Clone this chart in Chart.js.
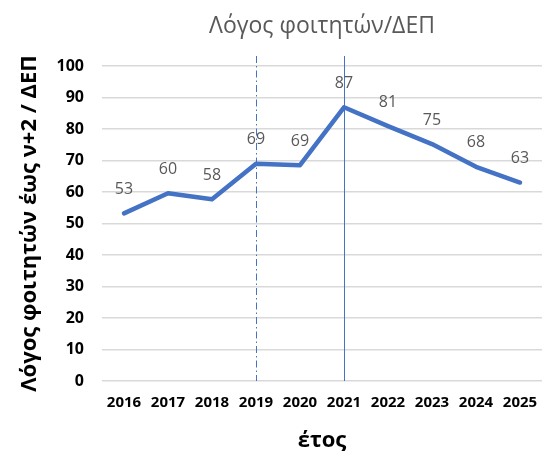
<!DOCTYPE html>
<html>
<head>
<meta charset="utf-8">
<script src="https://cdn.jsdelivr.net/npm/chart.js@4"></script>
<style>
html,body{margin:0;padding:0;background:#fff;}
#wrap{width:544px;height:452px;position:relative;}
</style>
</head>
<body>
<div id="wrap"><canvas id="c" width="544" height="452"></canvas></div>
<script>
const years = ["2016","2017","2018","2019","2020","2021","2022","2023","2024","2025"];
const ratio = [53.2, 59.6, 57.7, 69.0, 68.5, 86.9, 80.9, 75.2, 68.0, 63.0];
const ratioLabels = ["53","60","58","69","69","87","81","75","68","63"];
const markerYears = ["2019","2021"];

const FONT = "'Open Sans', 'Noto Sans', sans-serif";

const extras = {
  id: 'extras',
  beforeDatasetsDraw(chart) {
    const ctx = chart.ctx;
    const x = chart.scales.x;
    const area = chart.chartArea;
    ctx.save();
    ctx.strokeStyle = '#4472C4';
    ctx.lineWidth = 1;
    let px = x.getPixelForValue(years.indexOf(markerYears[0]));
    ctx.setLineDash([7, 3, 1.5, 3]);
    ctx.beginPath();
    ctx.moveTo(Math.round(px) + 0.5, area.top - 10);
    ctx.lineTo(Math.round(px) + 0.5, area.bottom);
    ctx.stroke();
    px = x.getPixelForValue(years.indexOf(markerYears[1]));
    ctx.setLineDash([]);
    ctx.beginPath();
    ctx.moveTo(Math.round(px) + 0.5, area.top - 10);
    ctx.lineTo(Math.round(px) + 0.5, area.bottom);
    ctx.stroke();
    ctx.restore();
  },
  afterDatasetsDraw(chart) {
    const ctx = chart.ctx;
    const meta = chart.getDatasetMeta(0);
    ctx.save();
    ctx.fillStyle = '#595959';
    ctx.font = "16px " + FONT;
    ctx.textAlign = 'center';
    ctx.textBaseline = 'middle';
    meta.data.forEach((pt, i) => {
      ctx.fillText(ratioLabels[i], pt.x, pt.y - 24);
    });
    ctx.restore();
  }
};

new Chart(document.getElementById('c'), {
  type: 'line',
  data: {
    labels: years,
    datasets: [{
      data: ratio,
      borderColor: '#4472C4',
      borderWidth: 4.5,
      pointRadius: 0,
      tension: 0,
      borderCapStyle: 'round',
      borderJoinStyle: 'round'
    }]
  },
  options: {
    responsive: false,
    animation: false,
    layout: { padding: { left: 0, right: 2, top: 0, bottom: 0 } },
    plugins: {
      legend: { display: false },
      tooltip: { enabled: false },
      title: {
        display: true,
        text: 'Λόγος φοιτητών/ΔΕΠ',
        color: '#595959',
        font: { family: FONT, size: 23, weight: 'normal', lineHeight: 1.2 },
        padding: { top: 13, bottom: 25.4 },
        fullSize: false
      }
    },
    scales: {
      x: {
        offset: true,
        grid: { display: false, drawTicks: false },
        border: { display: false },
        afterFit(s) { s.height = 71; s.paddingLeft = 0; s.paddingRight = 0; },
        ticks: {
          color: '#000',
          font: { family: FONT, size: 15, weight: 'bold' },
          padding: 13,
          maxRotation: 0, autoSkip: false
        },
        title: {
          display: true,
          text: 'έτος',
          color: '#000',
          font: { family: FONT, size: 22, weight: 'bold', lineHeight: 1 },
          padding: { top: 0, bottom: 0 }
        }
      },
      y: {
        min: 0, max: 100,
        afterFit(s) { s.width = 102; s.paddingTop = 0; s.paddingBottom = 0; },
        grid: { color: '#d9d9d9', lineWidth: 1.5, drawTicks: false },
        border: { display: false },
        ticks: {
          stepSize: 10,
          color: '#000',
          font: { family: FONT, size: 16, weight: 'bold' },
          padding: 18
        },
        title: {
          display: true,
          text: 'Λόγος φοιτητών έως ν+2 / ΔΕΠ',
          color: '#000',
          font: { family: FONT, size: 22, weight: 'bold', lineHeight: 1.2 },
          padding: { top: 17, bottom: 0 }
        }
      }
    }
  },
  plugins: [extras]
});
</script>
</body>
</html>
